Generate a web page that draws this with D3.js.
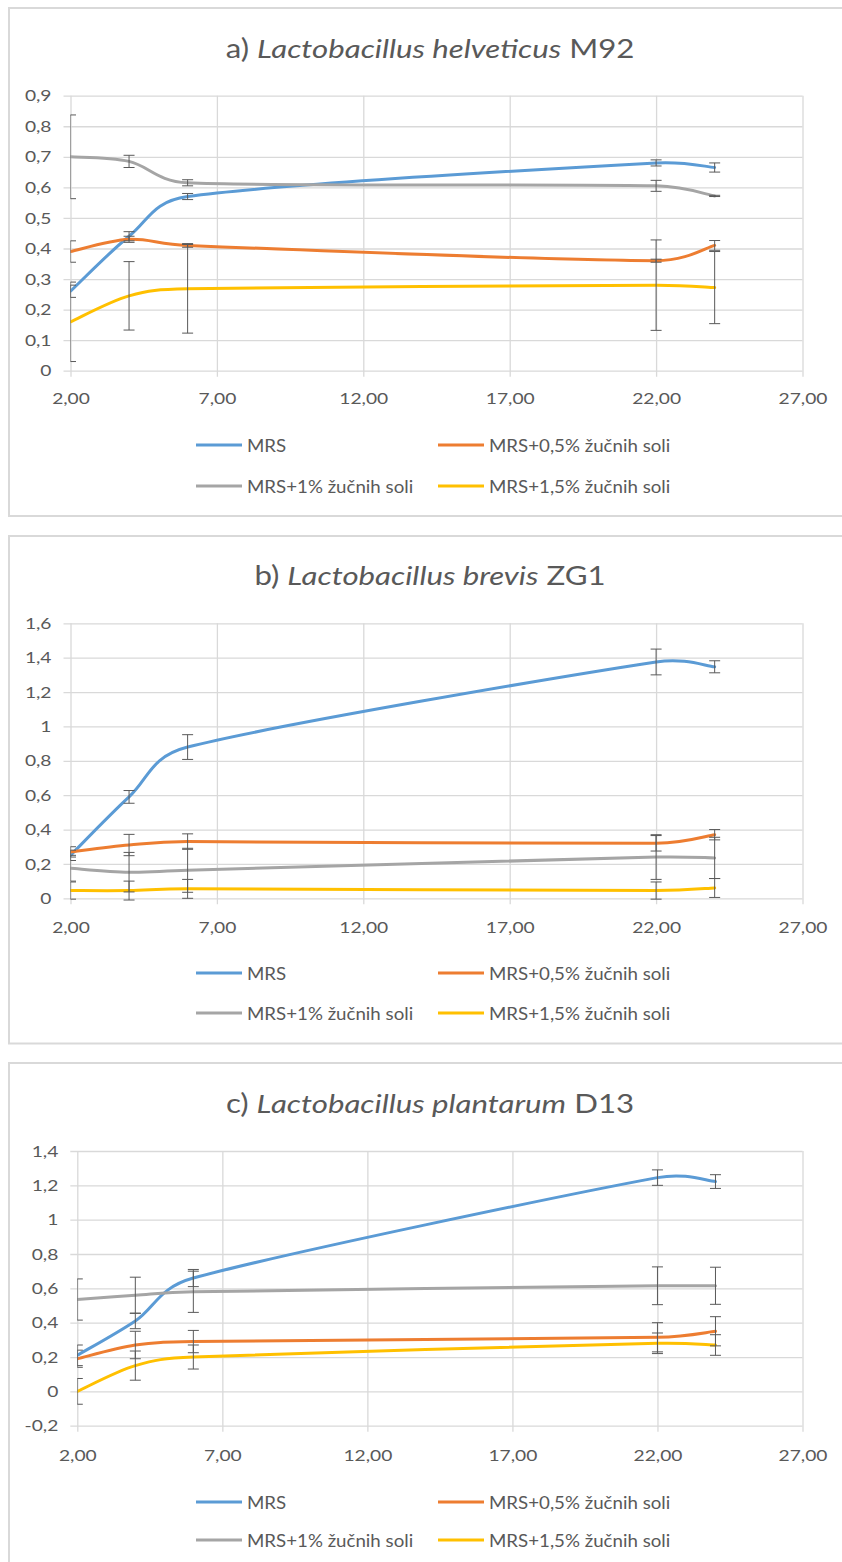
<!DOCTYPE html>
<html><head><meta charset="utf-8">
<script src="https://cdn.jsdelivr.net/npm/d3@7/dist/d3.min.js"></script>
<style>body{margin:0;background:#fff}svg{display:block}</style>
</head><body>
<svg id="chart" width="842" height="1562"></svg>
<script>
// ---------- DATA ----------
const hours = [2, 4, 6, 22, 24];
const seriesNames = ["MRS", "MRS+0,5% žučnih soli", "MRS+1% žučnih soli", "MRS+1,5% žučnih soli"];
const xTickValues = [2, 7, 12, 17, 22, 27];

// a) Lactobacillus helveticus M92
const aTitle = ["a) ", "Lactobacillus helveticus", " M92"];
const aYTicks = [0, 0.1, 0.2, 0.3, 0.4, 0.5, 0.6, 0.7, 0.8, 0.9];
const aMRS    = [0.26, 0.44, 0.57, 0.68, 0.665];
const aMRS05  = [0.39, 0.43, 0.41, 0.36, 0.41];
const aMRS1   = [0.70, 0.685, 0.615, 0.605, 0.572];
const aMRS15  = [0.16, 0.245, 0.268, 0.28, 0.272];
const aErrMRS   = [0.02, 0.015, 0.01, 0.01, 0.015];
const aErrMRS05 = [0.035, 0.01, 0.006, 0.005, 0.016];
const aErrMRS1  = [0.137, 0.02, 0.01, 0.018, 0.002];
const aErrMRS15 = [0.13, 0.112, 0.145, 0.148, 0.118];

// b) Lactobacillus brevis ZG1
const bTitle = ["b) ", "Lactobacillus brevis", " ZG1"];
const bYTicks = [0, 0.2, 0.4, 0.6, 0.8, 1, 1.2, 1.4, 1.6];
const bMRS    = [0.25, 0.59, 0.88, 1.375, 1.347];
const bMRS05  = [0.27, 0.31, 0.33, 0.32, 0.37];
const bMRS1   = [0.175, 0.152, 0.163, 0.24, 0.235];
const bMRS15  = [0.045, 0.045, 0.055, 0.045, 0.06];
const bErrMRS   = [0.03, 0.037, 0.072, 0.075, 0.035];
const bErrMRS05 = [0.03, 0.062, 0.045, 0.045, 0.03];
const bErrMRS1  = [0.075, 0.115, 0.128, 0.13, 0.12];
const bErrMRS15 = [0.05, 0.055, 0.055, 0.05, 0.055];

// c) Lactobacillus plantarum D13
const cTitle = ["c) ", "Lactobacillus plantarum", " D13"];
const cYTicks = [-0.2, 0, 0.2, 0.4, 0.6, 0.8, 1, 1.2, 1.4];
const cMRS    = [0.21, 0.41, 0.66, 1.245, 1.222];
const cMRS05  = [0.19, 0.27, 0.29, 0.315, 0.35];
const cMRS1   = [0.535, 0.56, 0.58, 0.615, 0.615];
const cMRS15  = [0.0, 0.15, 0.20, 0.28, 0.27];
const cErrMRS   = [0.06, 0.045, 0.05, 0.045, 0.04];
const cErrMRS05 = [0.05, 0.08, 0.065, 0.085, 0.085];
const cErrMRS1  = [0.12, 0.105, 0.12, 0.11, 0.108];
const cErrMRS15 = [0.075, 0.085, 0.07, 0.06, 0.06];

// ---------- STYLE / LAYOUT ----------
const colors = ["#5B9BD5", "#ED7D31", "#A5A5A5", "#FFC000"];
const FONT = "Lato, 'Open Sans', 'DejaVu Sans', sans-serif";
const textColor = "#595959";
const gridColor = "#d9d9d9";
const SX = 1.2; // horizontal text stretch (reference image is horizontally stretched)

const panels = [
  {title: aTitle, yTicks: aYTicks, series: [aMRS, aMRS05, aMRS1, aMRS15], errs: [aErrMRS, aErrMRS05, aErrMRS1, aErrMRS15],
   box: [9, 8, 860, 516], x0: 70.5, x1: 802.5, yTop: 95.7, yBot: 370.7, titleY: 48, xLabY: 398, legY: [445, 486]},
  {title: bTitle, yTicks: bYTicks, series: [bMRS, bMRS05, bMRS1, bMRS15], errs: [bErrMRS, bErrMRS05, bErrMRS1, bErrMRS15],
   box: [9, 536, 860, 1043.5], x0: 70.5, x1: 802.5, yTop: 623.3, yBot: 898.3, titleY: 575, xLabY: 927, legY: [973, 1013]},
  {title: cTitle, yTicks: cYTicks, series: [cMRS, cMRS05, cMRS1, cMRS15], errs: [cErrMRS, cErrMRS05, cErrMRS1, cErrMRS15],
   box: [9, 1063, 860, 1580], x0: 77.3, x1: 802.5, yTop: 1151, yBot: 1425.7, titleY: 1103, xLabY: 1455, legY: [1502, 1540]}
];

const svg = d3.select("#chart");
const fmtY = v => (Math.round(v * 10) / 10).toString().replace(".", ",").replace("-", "-");
const fmtX = v => v.toFixed(2).replace(".", ",");

// Excel-like smoothed line: Bezier with 1/6 neighbour tangents, clamped on short segments
function smoothPath(pts) {
  const p = d3.path();
  p.moveTo(pts[0][0], pts[0][1]);
  const K = 0.5;
  for (let i = 0; i < pts.length - 1; i++) {
    const P0 = pts[i - 1] || pts[i], P1 = pts[i], P2 = pts[i + 1], P3 = pts[i + 2] || pts[i + 1];
    const seg = Math.hypot(P2[0] - P1[0], P2[1] - P1[1]);
    let d1 = [(P2[0] - P0[0]) / 6, (P2[1] - P0[1]) / 6];
    let d2 = [(P3[0] - P1[0]) / 6, (P3[1] - P1[1]) / 6];
    const l1 = Math.hypot(d1[0], d1[1]), l2 = Math.hypot(d2[0], d2[1]);
    if (l1 > K * seg) { const f = K * seg / l1; d1 = [d1[0] * f, d1[1] * f]; }
    if (l2 > K * seg) { const f = K * seg / l2; d2 = [d2[0] * f, d2[1] * f]; }
    p.bezierCurveTo(P1[0] + d1[0], P1[1] + d1[1], P2[0] - d2[0], P2[1] - d2[1], P2[0], P2[1]);
  }
  return p.toString();
}

panels.forEach((p, pi) => {
  const g = svg.append("g");
  g.append("rect").attr("x", p.box[0]).attr("y", p.box[1])
    .attr("width", p.box[2] - p.box[0]).attr("height", p.box[3] - p.box[1])
    .attr("fill", "#fff").attr("stroke", gridColor).attr("stroke-width", 2);

  const x = d3.scaleLinear().domain([2, 27]).range([p.x0, p.x1]);
  const y = d3.scaleLinear().domain([p.yTicks[0], p.yTicks[p.yTicks.length - 1]]).range([p.yBot, p.yTop]);

  // title
  const t = g.append("text").attr("transform", `translate(430,${p.titleY}) scale(${SX},1)`)
    .attr("text-anchor", "middle").attr("dominant-baseline", "central")
    .attr("font-family", FONT).attr("font-size", 26).attr("fill", textColor);
  t.append("tspan").text(p.title[0]);
  t.append("tspan").attr("font-style", "italic").text(p.title[1]);
  t.append("tspan").text(p.title[2]);

  // y axis + horizontal gridlines
  const yAxis = d3.axisLeft(y).tickValues(p.yTicks).tickSize(7).tickFormat(fmtY);
  const ya = g.append("g").attr("transform", `translate(${p.x0},0)`).call(yAxis);
  ya.select(".domain").remove();
  ya.selectAll(".tick line").attr("stroke", gridColor).attr("stroke-width", 1.3).attr("x1", p.x1 - p.x0).attr("x2", -7);
  ya.selectAll("text").attr("font-family", FONT).attr("font-size", 16).attr("fill", textColor)
    .attr("x", -19 / SX).attr("transform", `scale(${SX},1)`);

  // x axis + vertical gridlines
  const xAxis = d3.axisBottom(x).tickValues(xTickValues).tickSize(6).tickFormat(fmtX);
  const xa = g.append("g").attr("transform", `translate(0,${p.yBot})`).call(xAxis);
  xa.select(".domain").remove();
  xa.selectAll(".tick line").attr("stroke", gridColor).attr("stroke-width", 1.3).attr("y1", -(p.yBot - p.yTop)).attr("y2", 6);
  xa.selectAll("text").attr("font-family", FONT).attr("font-size", 16).attr("fill", textColor)
    .attr("y", p.xLabY - p.yBot).attr("dy", "0.35em").attr("transform", `scale(${SX},1)`);

  // clip
  const clipId = "clip" + pi;
  g.append("clipPath").attr("id", clipId).append("rect")
    .attr("x", p.x0).attr("y", p.yTop - 20).attr("width", p.x1 - p.x0 + 10).attr("height", p.yBot - p.yTop + 40);

  const plot = g.append("g").attr("clip-path", `url(#${clipId})`);
  p.series.forEach((s, si) => {
    const pts = s.map((v, i) => [x(hours[i]), y(v)]);
    plot.append("path").attr("d", smoothPath(pts)).attr("fill", "none").attr("stroke", colors[si])
      .attr("stroke-width", 3).attr("stroke-linecap", "round").attr("stroke-linejoin", "round");
  });
  // error bars
  p.series.forEach((s, si) => {
    const e = p.errs[si];
    s.forEach((v, i) => {
      const cx = x(hours[i]);
      const eb = plot.append("g").attr("stroke", "#595959").attr("stroke-width", 1);
      eb.append("line").attr("x1", cx).attr("x2", cx).attr("y1", y(v - e[i])).attr("y2", y(v + e[i]));
      eb.append("line").attr("x1", cx - 5.5).attr("x2", cx + 5.5).attr("y1", y(v + e[i])).attr("y2", y(v + e[i]));
      eb.append("line").attr("x1", cx - 5.5).attr("x2", cx + 5.5).attr("y1", y(v - e[i])).attr("y2", y(v - e[i]));
    });
  });

  // legend
  const legPos = [[196, p.legY[0], 0], [438, p.legY[0], 1], [196, p.legY[1], 2], [438, p.legY[1], 3]];
  legPos.forEach(([lx, ly, si]) => {
    g.append("line").attr("x1", lx).attr("x2", lx + 46).attr("y1", ly).attr("y2", ly)
      .attr("stroke", colors[si]).attr("stroke-width", 3);
    g.append("text").attr("transform", `translate(${lx + 51},${ly}) scale(1.1,1)`).attr("dominant-baseline", "central")
      .attr("font-family", FONT).attr("font-size", 17).attr("fill", textColor).text(seriesNames[si]);
  });
});
</script>
</body></html>
